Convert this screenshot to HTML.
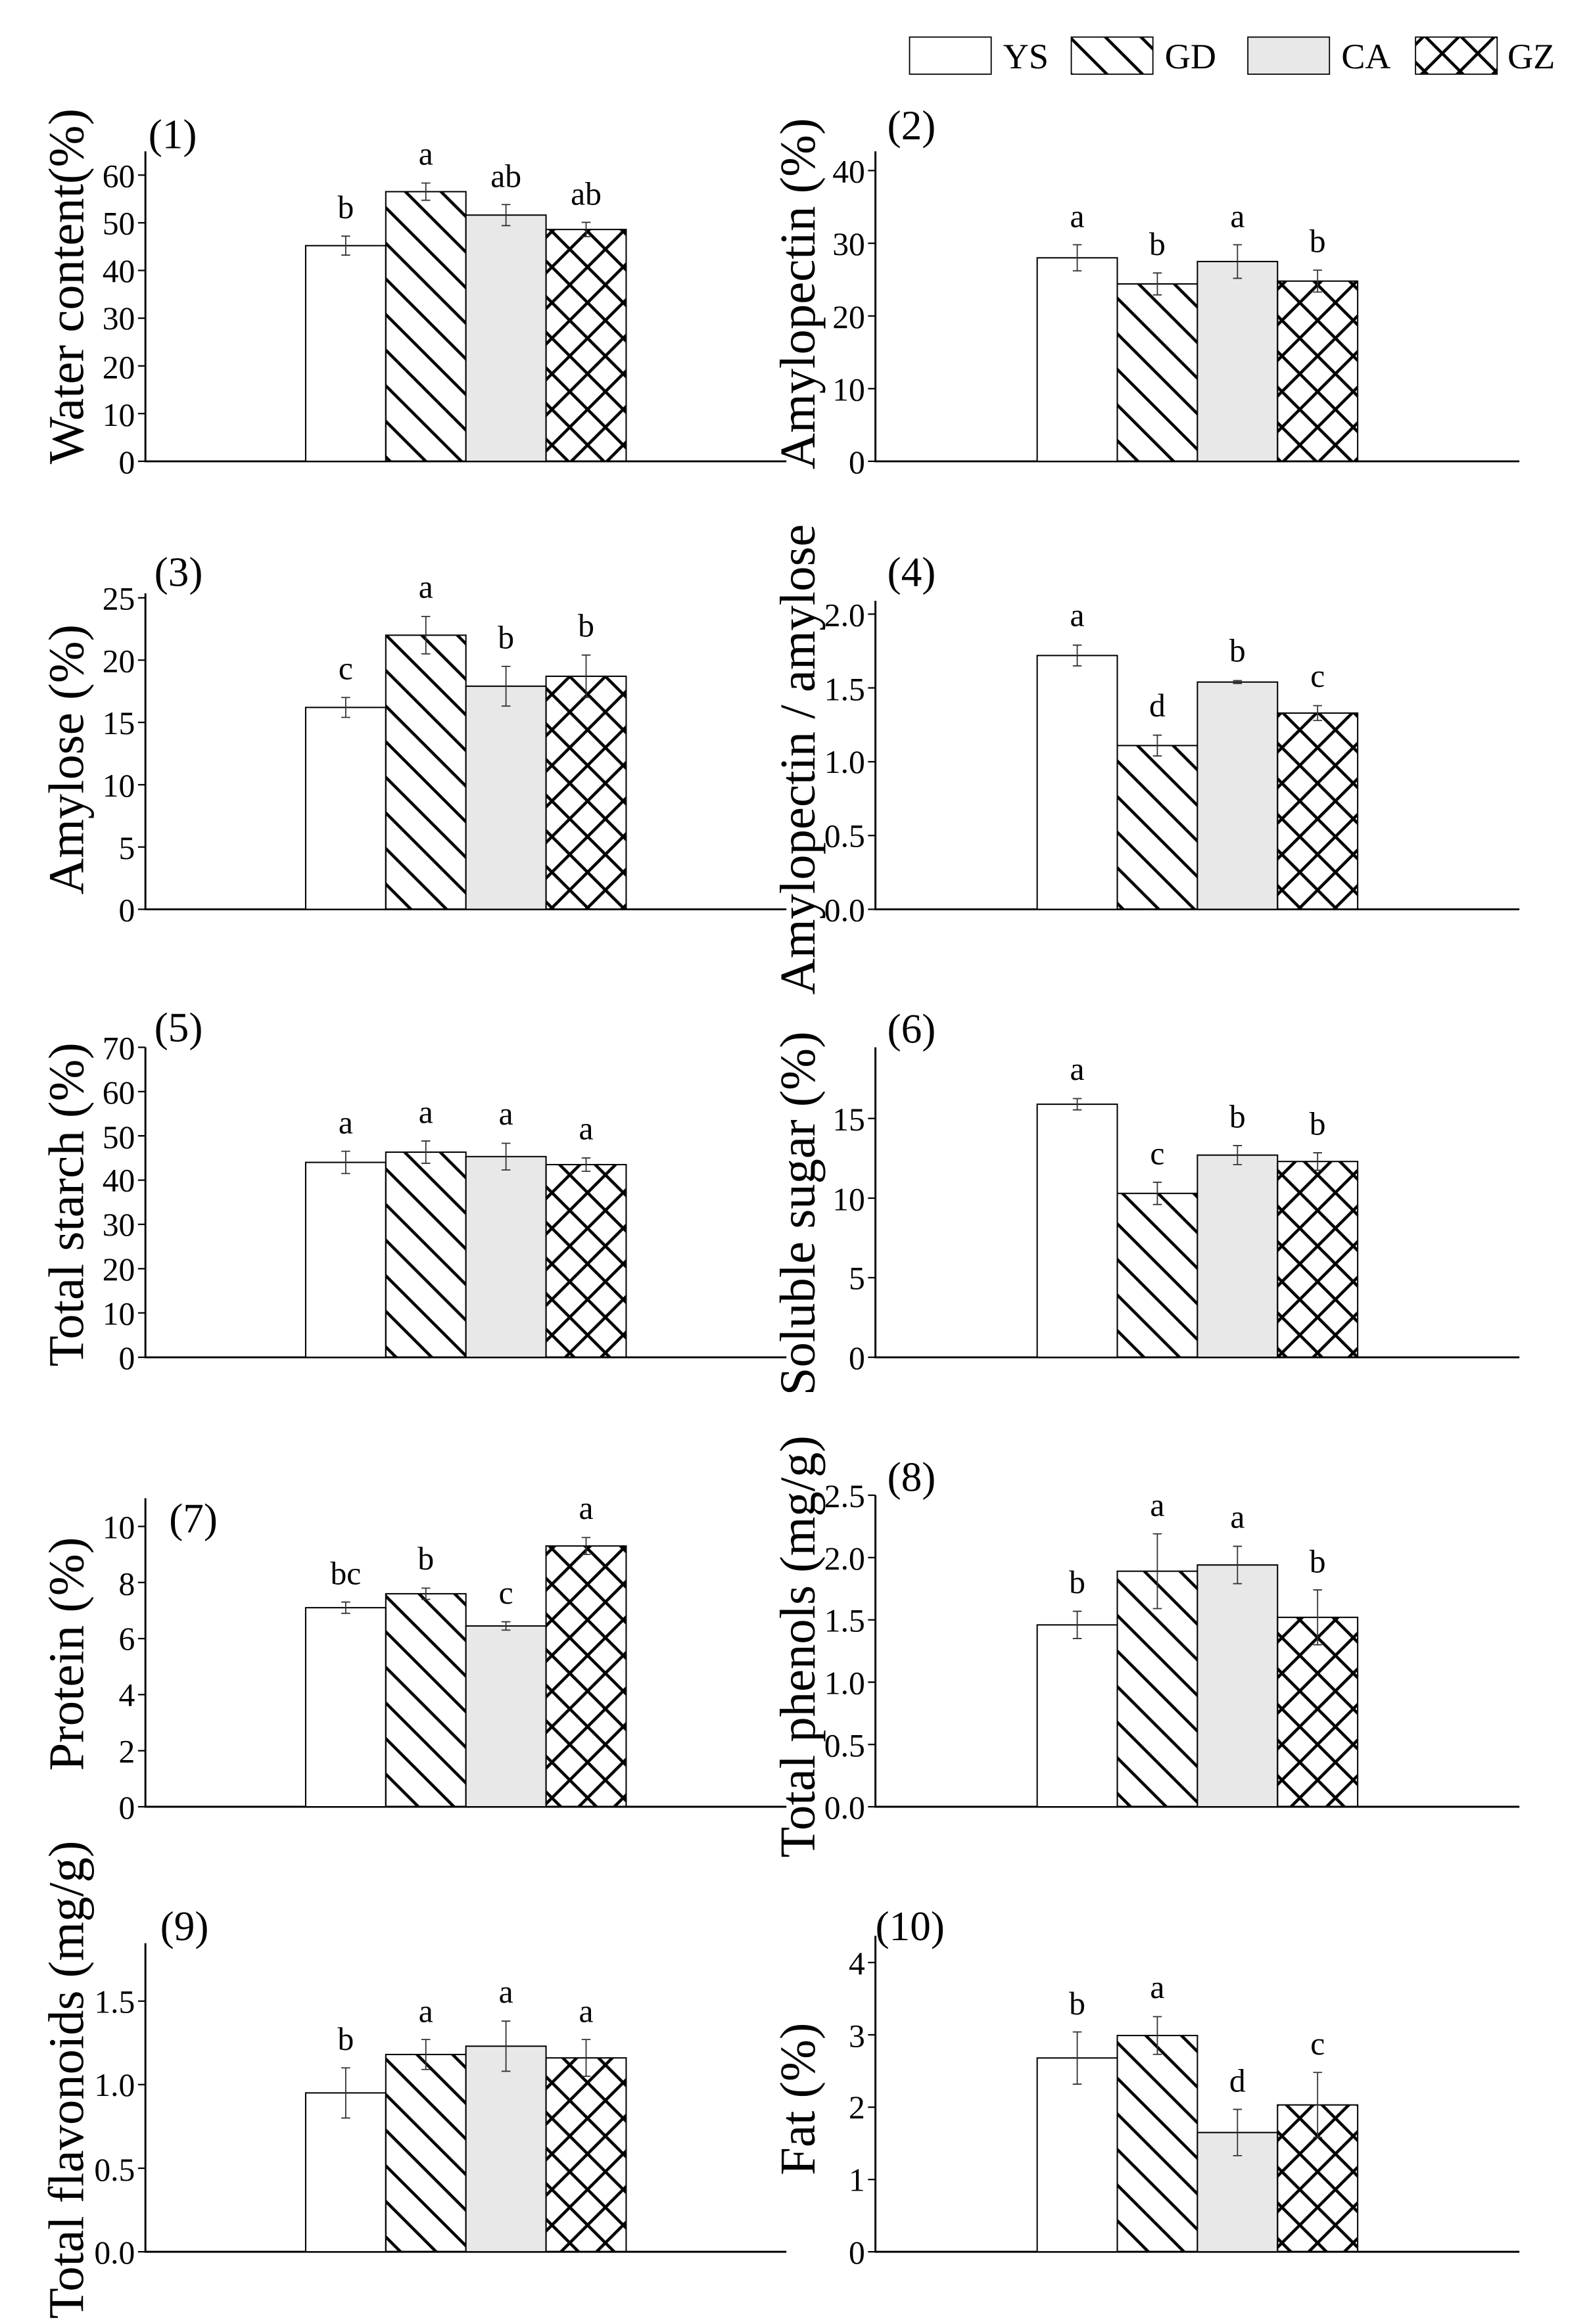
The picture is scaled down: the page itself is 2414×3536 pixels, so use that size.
<!DOCTYPE html>
<html><head><meta charset="utf-8"><style>html,body{margin:0;padding:0;background:#fff}svg{display:block}text{font-family:"Liberation Serif","Times New Roman",serif}</style></head><body>
<svg width="2414" height="3536" viewBox="0 0 2414 3536" xmlns="http://www.w3.org/2000/svg">
<defs>
<pattern id="d" width="24" height="24" patternUnits="userSpaceOnUse"><path d="M-12,-12 L36,36 M-12,12 L12,36 M12,-12 L36,12" stroke="#000" stroke-width="2"/></pattern>
<pattern id="x" width="24" height="24" patternUnits="userSpaceOnUse"><path d="M-12,-12 L36,36 M-12,12 L12,36 M12,-12 L36,12 M-12,36 L36,-12 M-12,12 L12,-12 M12,36 L36,12" stroke="#000" stroke-width="2"/></pattern>
</defs>
<rect width="2414" height="3536" fill="#fff"/>
<g transform="translate(0,0) scale(2.257)">
<g stroke="#000" stroke-width="0.8">
<rect x="613" y="25" width="55" height="25" fill="#fff"/>
<rect x="722" y="25" width="55" height="25" fill="url(#d)"/>
<rect x="841" y="25" width="55" height="25" fill="#e8e8e8"/>
<rect x="954" y="25" width="55" height="25" fill="url(#x)"/>
</g>
<g font-size="24"><text x="676" y="46">YS</text><text x="785" y="46">GD</text><text x="904" y="46">CA</text><text x="1016" y="46">GZ</text></g>

<g font-size="28"><text x="100" y="100">(1)</text><text x="598" y="94">(2)</text><text x="104" y="395">(3)</text><text x="598" y="395">(4)</text><text x="104" y="702">(5)</text><text x="598" y="703">(6)</text><text x="114" y="1033">(7)</text><text x="598" y="1005">(8)</text><text x="108" y="1308">(9)</text><text x="590" y="1308">(10)</text></g>

<g font-size="34" text-anchor="middle">
<text transform="translate(56,193) rotate(-90)">Water content(%)</text>
<text transform="translate(549,198) rotate(-90)">Amylopectin (%)</text>
<text transform="translate(56,512) rotate(-90)">Amylose (%)</text>
<text transform="translate(549,512) rotate(-90)">Amylopectin / amylose</text>
<text transform="translate(56,812) rotate(-90)">Total starch (%)</text>
<text transform="translate(549,818) rotate(-90)">Soluble sugar (%)</text>
<text transform="translate(56,1115) rotate(-90)">Protein (%)</text>
<text transform="translate(549,1110) rotate(-90)">Total phenols (mg/g)</text>
<text transform="translate(56,1402) rotate(-90)">Total flavonoids (mg/g)</text>
<text transform="translate(549,1415) rotate(-90)">Fat (%)</text>
</g>

<g stroke="#000" stroke-width="1.3" fill="none">
<path d="M98,102 V311 H530 M590,102 V311 H1024"/>
<path d="M98,400 V613 H530 M590,405 V613 H1024"/>
<path d="M98,706 V915 H530 M590,706 V915 H1024"/>
<path d="M98,1010 V1218 H530 M590,1008 V1218 H1024"/>
<path d="M98,1310 V1518 H530 M590,1305 V1518 H1024"/>
</g>
<g stroke="#000" stroke-width="1" fill="none">
<path d="M93,311H98M93,278.8H98M93,246.7H98M93,214.5H98M93,182.3H98M93,150.2H98M93,118H98"/>
<path d="M585,311H590M585,262H590M585,213H590M585,164H590M585,115H590"/>
<path d="M93,613H98M93,571H98M93,529H98M93,487H98M93,445H98M93,403H98"/>
<path d="M585,613H590M585,563.25H590M585,513.5H590M585,463.75H590M585,414H590"/>
<path d="M93,915H98M93,885.1H98M93,855.3H98M93,825.4H98M93,795.6H98M93,765.7H98M93,735.9H98M93,706H98"/>
<path d="M585,915H590M585,861.3H590M585,807.7H590M585,754H590"/>
<path d="M93,1218H98M93,1180.2H98M93,1142.4H98M93,1104.6H98M93,1066.8H98M93,1029H98"/>
<path d="M585,1218H590M585,1176H590M585,1134H590M585,1092H590M585,1050H590M585,1008H590"/>
<path d="M93,1518H98M93,1461.7H98M93,1405.3H98M93,1349H98"/>
<path d="M585,1518H590M585,1469.25H590M585,1420.5H590M585,1371.75H590M585,1323H590"/>
</g>
<g font-size="22" text-anchor="end">
<text x="91" y="319">0</text><text x="91" y="287">10</text><text x="91" y="255">20</text><text x="91" y="222">30</text><text x="91" y="190">40</text><text x="91" y="158">50</text><text x="91" y="126">60</text>
<text x="583" y="319">0</text><text x="583" y="270">10</text><text x="583" y="221">20</text><text x="583" y="172">30</text><text x="583" y="123">40</text>
<text x="91" y="621">0</text><text x="91" y="579">5</text><text x="91" y="537">10</text><text x="91" y="495">15</text><text x="91" y="453">20</text><text x="91" y="411">25</text>
<text x="583" y="621">0.0</text><text x="583" y="571">0.5</text><text x="583" y="521">1.0</text><text x="583" y="472">1.5</text><text x="583" y="422">2.0</text>
<text x="91" y="923">0</text><text x="91" y="893">10</text><text x="91" y="863">20</text><text x="91" y="833">30</text><text x="91" y="803">40</text><text x="91" y="774">50</text><text x="91" y="744">60</text><text x="91" y="714">70</text>
<text x="583" y="923">0</text><text x="583" y="869">5</text><text x="583" y="816">10</text><text x="583" y="762">15</text>
<text x="91" y="1226">0</text><text x="91" y="1188">2</text><text x="91" y="1150">4</text><text x="91" y="1112">6</text><text x="91" y="1075">8</text><text x="91" y="1037">10</text>
<text x="583" y="1226">0.0</text><text x="583" y="1184">0.5</text><text x="583" y="1142">1.0</text><text x="583" y="1100">1.5</text><text x="583" y="1058">2.0</text><text x="583" y="1016">2.5</text>
<text x="91" y="1526">0.0</text><text x="91" y="1470">0.5</text><text x="91" y="1413">1.0</text><text x="91" y="1357">1.5</text>
<text x="583" y="1526">0</text><text x="583" y="1477">1</text><text x="583" y="1428">2</text><text x="583" y="1380">3</text><text x="583" y="1331">4</text>
</g>

<g stroke="#000" stroke-width="0.9">
<rect x="206" y="165.6" width="54" height="145.4" fill="#fff"/><rect x="260" y="129.2" width="54" height="181.8" fill="url(#d)"/><rect x="314" y="145" width="54" height="166" fill="#e8e8e8"/><rect x="368" y="154.7" width="54" height="156.3" fill="url(#x)"/>
<rect x="699" y="173.8" width="54" height="137.2" fill="#fff"/><rect x="753" y="191.4" width="54" height="119.6" fill="url(#d)"/><rect x="807" y="176.3" width="54" height="134.7" fill="#e8e8e8"/><rect x="861" y="189.5" width="54" height="121.5" fill="url(#x)"/>
<rect x="206" y="476.9" width="54" height="136.1" fill="#fff"/><rect x="260" y="428.2" width="54" height="184.8" fill="url(#d)"/><rect x="314" y="462.6" width="54" height="150.4" fill="#e8e8e8"/><rect x="368" y="455.9" width="54" height="157.1" fill="url(#x)"/>
<rect x="699" y="441.9" width="54" height="171.1" fill="#fff"/><rect x="753" y="502.6" width="54" height="110.4" fill="url(#d)"/><rect x="807" y="459.8" width="54" height="153.2" fill="#e8e8e8"/><rect x="861" y="480.7" width="54" height="132.3" fill="url(#x)"/>
<rect x="206" y="783.6" width="54" height="131.4" fill="#fff"/><rect x="260" y="776.7" width="54" height="138.3" fill="url(#d)"/><rect x="314" y="779.7" width="54" height="135.3" fill="#e8e8e8"/><rect x="368" y="785.1" width="54" height="129.9" fill="url(#x)"/>
<rect x="699" y="744.4" width="54" height="170.6" fill="#fff"/><rect x="753" y="804.5" width="54" height="110.5" fill="url(#d)"/><rect x="807" y="778.7" width="54" height="136.3" fill="#e8e8e8"/><rect x="861" y="783" width="54" height="132" fill="url(#x)"/>
<rect x="206" y="1083.8" width="54" height="134.2" fill="#fff"/><rect x="260" y="1074.4" width="54" height="143.6" fill="url(#d)"/><rect x="314" y="1096.1" width="54" height="121.9" fill="#e8e8e8"/><rect x="368" y="1042.2" width="54" height="175.8" fill="url(#x)"/>
<rect x="699" y="1095.4" width="54" height="122.6" fill="#fff"/><rect x="753" y="1059.2" width="54" height="158.8" fill="url(#d)"/><rect x="807" y="1055" width="54" height="163" fill="#e8e8e8"/><rect x="861" y="1090.3" width="54" height="127.7" fill="url(#x)"/>
<rect x="206" y="1410.9" width="54" height="107.1" fill="#fff"/><rect x="260" y="1385" width="54" height="133" fill="url(#d)"/><rect x="314" y="1379.4" width="54" height="138.6" fill="#e8e8e8"/><rect x="368" y="1387.3" width="54" height="130.7" fill="url(#x)"/>
<rect x="699" y="1387.35" width="54" height="130.65" fill="#fff"/><rect x="753" y="1372.2" width="54" height="145.8" fill="url(#d)"/><rect x="807" y="1437.6" width="54" height="80.4" fill="#e8e8e8"/><rect x="861" y="1419" width="54" height="99" fill="url(#x)"/>
</g>

<g stroke="#333" stroke-width="0.8" fill="none">
<path d="M233,159.2V172M230,159.2h6M230,172h6 M287,123.4V135M284,123.4h6M284,135h6 M341,137.9V152.1M338,137.9h6M338,152.1h6 M395,149.9V159.5M392,149.9h6M392,159.5h6"/>
<path d="M726,165V182.6M723,165h6M723,182.6h6 M780,184V198.8M777,184h6M777,198.8h6 M834,165V187.6M831,165h6M831,187.6h6 M888,182.1V196.9M885,182.1h6M885,196.9h6"/>
<path d="M233,470.2V483.6M230,470.2h6M230,483.6h6 M287,415.6V440.8M284,415.6h6M284,440.8h6 M341,449.2V476M338,449.2h6M338,476h6 M395,441.6V470.2M392,441.6h6M392,470.2h6"/>
<path d="M726,434.9V448.9M723,434.9h6M723,448.9h6 M780,495.6V509.6M777,495.6h6M777,509.6h6 M834,458.8V460.8M831,458.8h6M831,460.8h6 M888,475.7V485.7M885,475.7h6M885,485.7h6"/>
<path d="M233,776.1V791.1M230,776.1h6M230,791.1h6 M287,769.2V784.2M284,769.2h6M284,784.2h6 M341,770.7V788.7M338,770.7h6M338,788.7h6 M395,780.6V789.6M392,780.6h6M392,789.6h6"/>
<path d="M726,740.6V748.2M723,740.6h6M723,748.2h6 M780,797V812M777,797h6M777,812h6 M834,772.3V785.1M831,772.3h6M831,785.1h6 M888,777.1V788.9M885,777.1h6M885,788.9h6"/>
<path d="M233,1080V1087.6M230,1080h6M230,1087.6h6 M287,1070.6V1078.2M284,1070.6h6M284,1078.2h6 M341,1093.3V1098.9M338,1093.3h6M338,1098.9h6 M395,1036.5V1047.9M392,1036.5h6M392,1047.9h6"/>
<path d="M726,1086.2V1104.6M723,1086.2h6M723,1104.6h6 M780,1034V1084.4M777,1034h6M777,1084.4h6 M834,1042.4V1067.6M831,1042.4h6M831,1067.6h6 M888,1071.8V1108.8M885,1071.8h6M885,1108.8h6"/>
<path d="M233,1394V1427.8M230,1394h6M230,1427.8h6 M287,1374.9V1395.1M284,1374.9h6M284,1395.1h6 M341,1362.5V1396.3M338,1362.5h6M338,1396.3h6 M395,1374.9V1399.7M392,1374.9h6M392,1399.7h6"/>
<path d="M726,1369.8V1405M723,1369.8h6M723,1405h6 M780,1359.5V1384.9M777,1359.5h6M777,1384.9h6 M834,1422V1453.2M831,1422h6M831,1453.2h6 M888,1397.1V1440.9M885,1397.1h6M885,1440.9h6"/>
</g>

<g font-size="22" text-anchor="middle">
<text x="233" y="147">b</text><text x="287" y="111">a</text><text x="341" y="126">ab</text><text x="395" y="138">ab</text>
<text x="726" y="153">a</text><text x="780" y="172">b</text><text x="834" y="153">a</text><text x="888" y="170">b</text>
<text x="233" y="458">c</text><text x="287" y="403">a</text><text x="341" y="437">b</text><text x="395" y="429">b</text>
<text x="726" y="422">a</text><text x="780" y="483">d</text><text x="834" y="446">b</text><text x="888" y="463">c</text>
<text x="233" y="764">a</text><text x="287" y="757">a</text><text x="341" y="758">a</text><text x="395" y="768">a</text>
<text x="726" y="728">a</text><text x="780" y="785">c</text><text x="834" y="760">b</text><text x="888" y="765">b</text>
<text x="233" y="1068">bc</text><text x="287" y="1058">b</text><text x="341" y="1081">c</text><text x="395" y="1024">a</text>
<text x="726" y="1074">b</text><text x="780" y="1022">a</text><text x="834" y="1030">a</text><text x="888" y="1060">b</text>
<text x="233" y="1382">b</text><text x="287" y="1363">a</text><text x="341" y="1350">a</text><text x="395" y="1363">a</text>
<text x="726" y="1358">b</text><text x="780" y="1347">a</text><text x="834" y="1410">d</text><text x="888" y="1385">c</text>
</g>
</g>
</svg>
</body></html>
